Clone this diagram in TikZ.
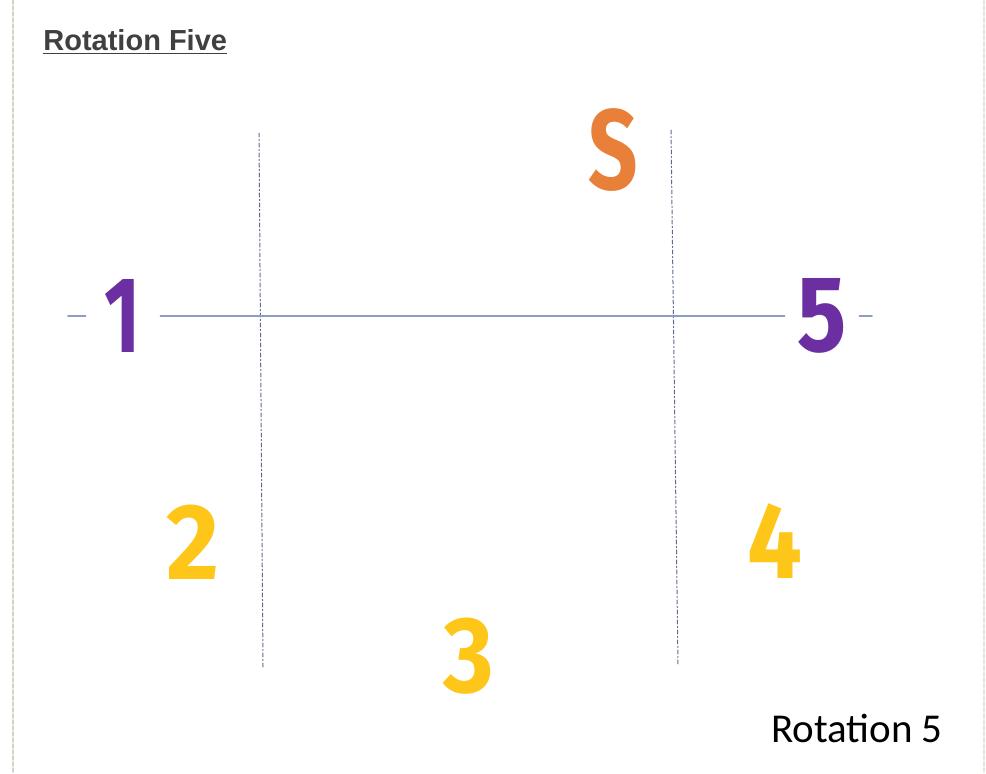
\documentclass[tikz,border=0pt]{standalone}
\usepackage{graphicx}
\usepackage{fontspec}
\setmainfont{Liberation Sans}
\newfontfamily\digitfont{Fira Sans}
\newfontfamily\notefont{Carlito}
\definecolor{rotpurple}{HTML}{6B2FA2}
\definecolor{rotorange}{HTML}{E8803A}
\definecolor{rotyellow}{HTML}{FFC61A}
\definecolor{rottitle}{HTML}{404040}
\definecolor{axisblue}{HTML}{8E9DC6}
\definecolor{guidegrey}{HTML}{5F6C8C}
\definecolor{edgetan}{HTML}{D6D2C4}
% narrower glyphs, the numbers are set condensed
\newcommand{\squeeze}[2]{\scalebox{#1}[1]{#2}}
\begin{document}
\begin{tikzpicture}[x=0.5pt, y=-0.5pt, line cap=round,
    bignum/.style={inner sep=0pt, font=\digitfont\bfseries\fontsize{54}{54}\selectfont},
    endnum/.style={bignum, text=rotpurple, fill=white, minimum width=37pt},
    posnum/.style={bignum, text=rotyellow},
    guide/.style={draw=guidegrey, line width=0.5pt, dash pattern=on 2pt off 1.2pt on 0.6pt off 1.2pt},
    axis/.style={draw=axisblue, line width=0.8pt},
    pageedge/.style={draw=edgetan, line width=0.9pt, dash pattern=on 2pt off 1pt}]
  % --- page ---
  \fill[white] (0,0) rectangle (986,773);
  \useasboundingbox (0,0) rectangle (986,773);
  \draw[pageedge] (13,0) -- (13,773);
  \draw[pageedge, draw=edgetan!60] (984,0) -- (984,773);

  % --- title ---
  \node[anchor=base west, inner sep=0pt, text=rottitle,
        font=\bfseries\fontsize{14.5}{14.5}\selectfont] (title) at (43,50)
        {\underline{Rotation Five}};

  % --- guide lines ---
  \coordinate (gl-top) at (259,133);
  \coordinate (gl-bot) at (263,667);
  \coordinate (gr-top) at (671,130);
  \coordinate (gr-bot) at (678,665);
  \draw[guide] (gl-top) -- (gl-bot);
  \draw[guide] (gr-top) -- (gr-bot);

  % --- axis and its ends ---
  \coordinate (ax-l) at (68,316);
  \coordinate (ax-r) at (872,316);
  \node[endnum] (one) at (123,316) {\squeeze{0.72}{1}};
  \node[endnum] (five) at (822,316) {\squeeze{0.85}{5}};
  \draw[axis] (ax-l) -- (one);
  \draw[axis] (one) -- (five);
  \draw[axis] (five) -- (ax-r);

  % --- positions ---
  \node[bignum, text=rotorange, font=\digitfont\bfseries\fontsize{57}{57}\selectfont] (s) at (613,150) {\squeeze{0.76}{S}};
  \node[posnum] (two) at (193,542) {\squeeze{0.95}{2}};
  \node[posnum] (three) at (469,656) {\squeeze{0.9}{3}};
  \node[posnum] (four) at (775,541) {\squeeze{0.9}{4}};

  % --- caption ---
  \node[anchor=base east, inner sep=0pt, font=\notefont\fontsize{20.5}{20.5}\selectfont] (caption) at (943,742) {Rotation 5};
\end{tikzpicture}
\end{document}
